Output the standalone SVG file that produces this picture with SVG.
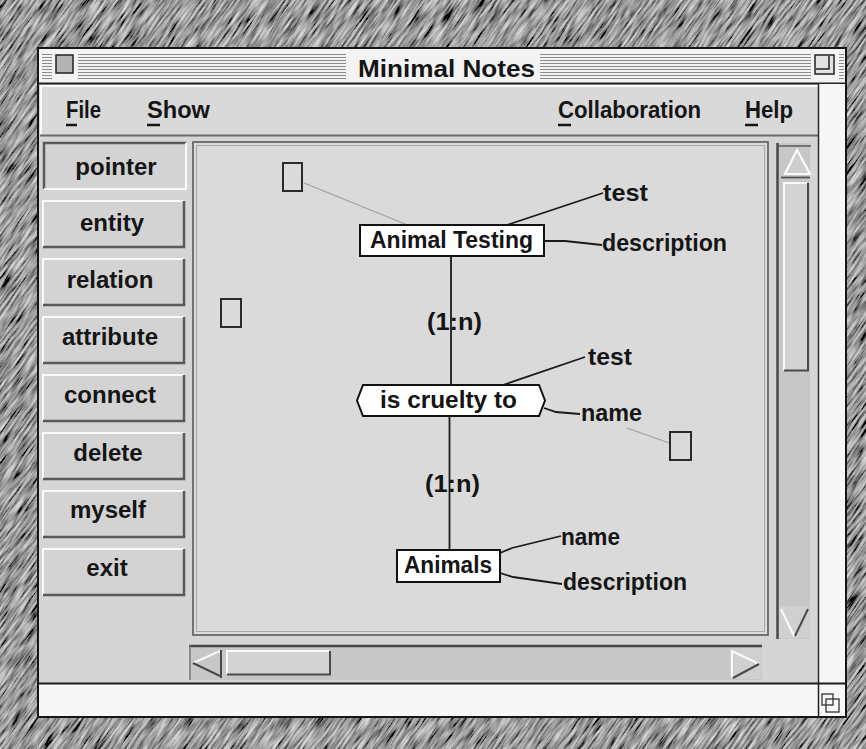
<svg xmlns="http://www.w3.org/2000/svg" width="866" height="749" viewBox="0 0 866 749">
<defs>
<filter id="granite" x="-0.1" y="-0.1" width="1.2" height="1.2">
<feTurbulence type="fractalNoise" baseFrequency="0.04 0.45" numOctaves="3" seed="5"/>
<feColorMatrix type="matrix" values="1.3 0 0 0 -0.33  1.3 0 0 0 -0.33  1.3 0 0 0 -0.33  0 0 0 0 1"/>
</filter>
<style>
.ui{font-family:"Liberation Sans",Arial,Helvetica,sans-serif;font-weight:bold;fill:#151515}
.btn rect{fill:#d3d3d3}
.btn .hl{fill:none;stroke:#fafafa;stroke-width:2}
.btn .sh{fill:none;stroke:#5a5a5a;stroke-width:2.5}
.btn text{font-size:24px;text-anchor:middle}
.menu{font-size:24px}
.lbl{font-size:23px}
.ent{fill:#fff;stroke:#111;stroke-width:2}
.ph{fill:none;stroke:#2a2a2a;stroke-width:2}
.edge{fill:none;stroke:#1a1a1a;stroke-width:1.8}
.faint{fill:none;stroke:#a0a0a0;stroke-width:1.2}
.stripe{stroke:#8a8a8a;stroke-width:1}
.white{stroke:#fafafa;fill:none;stroke-width:2}
.dark{stroke:#4a4a4a;fill:none;stroke-width:2}
</style>
</defs>

<!-- textured background -->
<rect x="0" y="0" width="866" height="749" fill="#707070"/>
<g transform="rotate(-55 433 374)">
<rect x="-250" y="-250" width="1366" height="1249" filter="url(#granite)"/>
</g>

<!-- window frame -->
<g id="window">
<rect x="38" y="48" width="808" height="669" fill="#d5d5d5" stroke="#161616" stroke-width="2"/>
<!-- title bar -->
<rect x="39" y="49" width="806" height="34" fill="#f3f3f3"/>
<path class="stripe" d="M42 54.5H844M42 57.5H844M42 60.5H844M42 63.5H844M42 66.5H844M42 69.5H844M42 72.5H844M42 75.5H844M42 78.5H844"/>
<rect x="52" y="51" width="26" height="30" fill="#f3f3f3"/>
<rect x="56" y="55" width="17" height="18" fill="#b3b3b3" stroke="#222" stroke-width="1.5"/>
<rect x="346" y="50" width="194" height="32" fill="#f3f3f3"/>
<text class="ui" x="358" y="77" font-size="24" textLength="177" lengthAdjust="spacingAndGlyphs">Minimal Notes</text>
<rect x="811" y="51" width="28" height="30" fill="#f3f3f3"/>
<rect x="815" y="55" width="19" height="19" fill="#e2e2e2" stroke="#222" stroke-width="1.5"/>
<path d="M816 69H829V56" fill="none" stroke="#222" stroke-width="1.5"/>
<line x1="38" y1="83.5" x2="846" y2="83.5" stroke="#222" stroke-width="2"/>

<!-- menu bar -->
<rect x="40" y="85" width="779" height="51" fill="#d9d9d9"/>
<path d="M40 86H819M41 86V136" class="white"/>
<path d="M40 135.5H819" stroke="#6a6a6a" stroke-width="2"/>
<text class="ui menu" x="66" y="118" textLength="35" lengthAdjust="spacingAndGlyphs">File</text>
<text class="ui menu" x="147" y="118" textLength="63" lengthAdjust="spacingAndGlyphs">Show</text>
<text class="ui menu" x="558" y="118" textLength="143" lengthAdjust="spacingAndGlyphs">Collaboration</text>
<text class="ui menu" x="745" y="118" textLength="48" lengthAdjust="spacingAndGlyphs">Help</text>
<path d="M66 125H77M147 125H160M558 125H571M745 125H758" stroke="#151515" stroke-width="2.5"/>

<!-- right white margin -->
<rect x="819" y="84" width="26" height="600" fill="#f7f7f7"/>
<line x1="818.5" y1="84" x2="818.5" y2="717" stroke="#2a2a2a" stroke-width="1.5"/>

<!-- status bar -->
<rect x="39" y="684" width="779" height="32" fill="#f7f7f7"/>
<rect x="819" y="684" width="26" height="32" fill="#f7f7f7"/>
<line x1="38" y1="683.5" x2="846" y2="683.5" stroke="#1e1e1e" stroke-width="2"/>
<line x1="818.5" y1="684" x2="818.5" y2="717" stroke="#1e1e1e" stroke-width="1.5"/>
<rect x="822" y="694" width="11" height="11" fill="none" stroke="#333" stroke-width="1.3"/>
<rect x="826" y="699" width="13" height="13" fill="none" stroke="#333" stroke-width="1.3"/>
</g>

<!-- tool buttons -->
<g id="btn-pointer" class="btn">
<rect x="43" y="142" width="144" height="48"/>
<path class="sh" d="M44 189V143H186"/>
<path class="hl" d="M44 189H186V143"/>
<text class="ui" x="116" y="175">pointer</text>
</g>
<g id="btn-entity" class="btn">
<rect x="42" y="200" width="143" height="48"/>
<path class="hl" d="M43 247V201H184"/>
<path class="sh" d="M43 247H184V201"/>
<text class="ui" x="112" y="231">entity</text>
</g>
<g id="btn-relation" class="btn">
<rect x="42" y="258" width="143" height="48"/>
<path class="hl" d="M43 305V259H184"/>
<path class="sh" d="M43 305H184V259"/>
<text class="ui" x="110" y="288">relation</text>
</g>
<g id="btn-attribute" class="btn">
<rect x="42" y="316" width="143" height="48"/>
<path class="hl" d="M43 363V317H184"/>
<path class="sh" d="M43 363H184V317"/>
<text class="ui" x="110" y="345">attribute</text>
</g>
<g id="btn-connect" class="btn">
<rect x="42" y="374" width="143" height="48"/>
<path class="hl" d="M43 421V375H184"/>
<path class="sh" d="M43 421H184V375"/>
<text class="ui" x="110" y="403">connect</text>
</g>
<g id="btn-delete" class="btn">
<rect x="42" y="432" width="143" height="48"/>
<path class="hl" d="M43 479V433H184"/>
<path class="sh" d="M43 479H184V433"/>
<text class="ui" x="108" y="461">delete</text>
</g>
<g id="btn-myself" class="btn">
<rect x="42" y="490" width="143" height="48"/>
<path class="hl" d="M43 537V491H184"/>
<path class="sh" d="M43 537H184V491"/>
<text class="ui" x="108" y="518">myself</text>
</g>
<g id="btn-exit" class="btn">
<rect x="42" y="548" width="143" height="48"/>
<path class="hl" d="M43 595V549H184"/>
<path class="sh" d="M43 595H184V549"/>
<text class="ui" x="107" y="576">exit</text>
</g>

<!-- canvas -->
<g id="canvas">
<rect x="193" y="142" width="575" height="493" fill="#dadada" stroke="#5a5a5a" stroke-width="1.6"/>
<rect x="196.5" y="145.5" width="568" height="486" fill="none" stroke="#a8a8a8" stroke-width="1"/>
</g>

<!-- vertical scrollbar -->
<g id="vscroll">
<rect x="777" y="143" width="33" height="496" fill="#c7c7c7"/>
<line x1="777.5" y1="143" x2="777.5" y2="639" stroke="#474747" stroke-width="2.5"/>
<line x1="777" y1="146" x2="811" y2="146" stroke="#5a5a5a" stroke-width="1.5"/>
<polygon points="797,150 785,174 810,174" fill="#cdcdcd" stroke="#fafafa" stroke-width="2.2"/>
<line x1="781" y1="177.5" x2="810" y2="177.5" stroke="#555" stroke-width="1.8"/>
<rect x="783" y="183" width="25" height="188" fill="#d3d3d3"/>
<path class="white" d="M784 370V183H807"/>
<path class="dark" d="M784 370.5H808V183"/>
<rect x="779" y="606" width="30" height="32" fill="#d0d0d0"/>
<path class="white" d="M781 609L794 636"/>
<path class="dark" d="M808 609L795 636"/>
</g>

<!-- horizontal scrollbar -->
<g id="hscroll">
<rect x="189" y="645" width="573" height="35" fill="#c7c7c7"/>
<line x1="189" y1="646" x2="762" y2="646" stroke="#474747" stroke-width="2.5"/>
<line x1="190" y1="645" x2="190" y2="680" stroke="#777" stroke-width="1.5"/>
<path class="white" d="M220 651L193 663"/>
<path class="dark" d="M193 663L220 676M221 650V678"/>
<rect x="226" y="650" width="104" height="25" fill="#d3d3d3"/>
<path class="white" d="M227 674V651H329"/>
<path class="dark" d="M227 674.5H330V651"/>
<rect x="730" y="648" width="31" height="31" fill="#d0d0d0"/>
<path class="white" d="M732 650V677M732 651L759 664"/>
<path class="dark" d="M759 664L733 678"/>
</g>

<!-- connectors -->
<g id="connectors">
<path class="faint" d="M304 183L405 224"/>
<path class="faint" d="M627 428L669 443"/>
<path class="edge" d="M451 256V385"/>
<path class="edge" d="M449.5 416V550"/>
<path class="edge" d="M507 225L603 193"/>
<path class="edge" d="M544 241H565L602 245"/>
<path class="edge" d="M503 385L585 357"/>
<path class="edge" d="M544 408L556 412L580 414"/>
<path class="edge" d="M500 553L512 548L561 536"/>
<path class="edge" d="M500 573L513 577L562 584"/>
</g>

<!-- placeholder boxes -->
<g id="box1"><rect class="ph" x="283" y="163" width="19" height="28"/></g>
<g id="box2"><rect class="ph" x="221" y="299" width="20" height="28"/></g>
<g id="box3"><rect class="ph" x="670" y="432" width="21" height="28"/></g>

<!-- entities / relations -->
<g id="animal-testing">
<rect class="ent" x="360" y="225" width="184" height="31"/>
<text class="ui lbl" x="370" y="248" textLength="163" lengthAdjust="spacingAndGlyphs">Animal Testing</text>
</g>
<g id="is-cruelty-to">
<polygon class="ent" points="363,385 539,385 545,400.5 539,416 363,416 357,400.5"/>
<text class="ui lbl" x="380" y="408" textLength="137" lengthAdjust="spacingAndGlyphs">is cruelty to</text>
</g>
<g id="animals">
<rect class="ent" x="397" y="550" width="103" height="32"/>
<text class="ui lbl" x="404" y="573" textLength="88" lengthAdjust="spacingAndGlyphs">Animals</text>
</g>

<!-- attributes -->
<g id="attr-test-1"><text class="ui lbl" x="603" y="201" textLength="45" lengthAdjust="spacingAndGlyphs">test</text></g>
<g id="attr-description-1"><text class="ui lbl" x="602" y="251" textLength="125" lengthAdjust="spacingAndGlyphs">description</text></g>
<g id="attr-test-2"><text class="ui lbl" x="588" y="365" textLength="44" lengthAdjust="spacingAndGlyphs">test</text></g>
<g id="attr-name-1"><text class="ui lbl" x="581" y="421" textLength="61" lengthAdjust="spacingAndGlyphs">name</text></g>
<g id="attr-name-2"><text class="ui lbl" x="561" y="545" textLength="59" lengthAdjust="spacingAndGlyphs">name</text></g>
<g id="attr-description-2"><text class="ui lbl" x="563" y="590" textLength="124" lengthAdjust="spacingAndGlyphs">description</text></g>

<!-- cardinality labels -->
<g id="card-1"><text class="ui lbl" x="427" y="330" textLength="55" lengthAdjust="spacingAndGlyphs">(1:n)</text></g>
<g id="card-2"><text class="ui lbl" x="425" y="492" textLength="55" lengthAdjust="spacingAndGlyphs">(1:n)</text></g>
</svg>
